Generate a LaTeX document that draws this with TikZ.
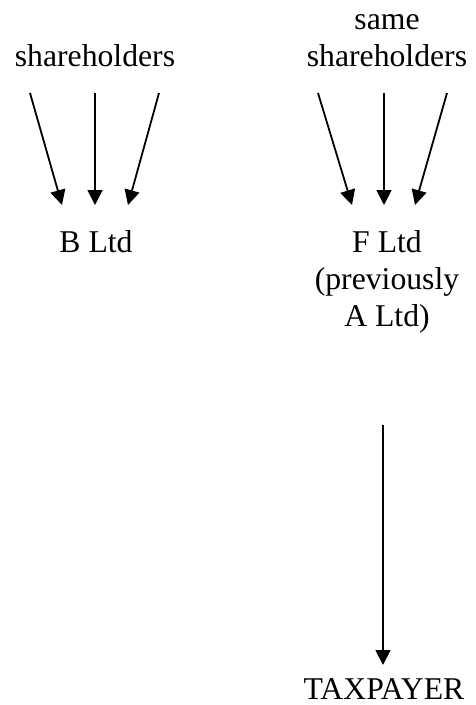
\documentclass[tikz,border=0pt]{standalone}
\usepackage{fontspec}
\setmainfont{Liberation Serif}
\usetikzlibrary{arrows.meta}
\begin{document}
\begin{tikzpicture}[x=1pt,y=-1pt,
  lbl/.style={inner sep=0pt, font=\fontsize{31.7}{37}\selectfont, align=center},
  arr/.style={line width=1.8pt, -{Triangle[length=15pt,width=15pt]}}]
\useasboundingbox (0,0) rectangle (475,705);
% labels
\node[lbl, anchor=base] (shA) at (95,66) {shareholders};
\node[lbl, anchor=base] (sameA) at (387,29) {same};
\node[lbl, anchor=base] (shF) at (387,66) {shareholders};
\node[lbl, anchor=base] (B) at (96,252) {B Ltd};
\node[lbl, anchor=base] (F) at (387,252) {F Ltd};
\node[lbl, anchor=base] (prev) at (387,289) {(previously};
\node[lbl, anchor=base] (Aold) at (387,326) {A Ltd)};
\node[lbl, anchor=base] (T) at (384,699) {TAXPAYER};
% arrow end points
\coordinate (a1s) at (30,93);  \coordinate (a1e) at (62,205);
\coordinate (a2s) at (95,93);  \coordinate (a2e) at (95,205);
\coordinate (a3s) at (159,93); \coordinate (a3e) at (128,205);
\coordinate (b1s) at (318,93); \coordinate (b1e) at (352,205);
\coordinate (b2s) at (384,93); \coordinate (b2e) at (384,205);
\coordinate (b3s) at (447,93); \coordinate (b3e) at (415,205);
\coordinate (ts) at (383,425); \coordinate (te) at (383,665);
\draw[arr] (a1s) -- (a1e);
\draw[arr] (a2s) -- (a2e);
\draw[arr] (a3s) -- (a3e);
\draw[arr] (b1s) -- (b1e);
\draw[arr] (b2s) -- (b2e);
\draw[arr] (b3s) -- (b3e);
\draw[arr] (ts) -- (te);
\end{tikzpicture}
\end{document}
